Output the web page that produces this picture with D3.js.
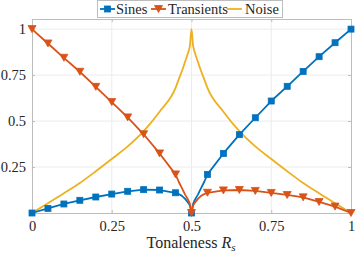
<!DOCTYPE html>
<html>
<head>
<meta charset="utf-8">
<script src="https://cdn.jsdelivr.net/npm/d3@7"></script>
<style>
  html, body { margin: 0; padding: 0; background: #fff; }
</style>
</head>
<body>
<div id="chart"></div>
<script>
// tonalness values (line points, markers every 0.05)
const xs = [0, 0.05, 0.1, 0.15, 0.2, 0.25, 0.3, 0.35, 0.4, 0.45, 0.46, 0.47, 0.48, 0.49, 0.495, 0.5,
            0.505, 0.51, 0.52, 0.53, 0.54, 0.55, 0.6, 0.65, 0.7, 0.75, 0.8, 0.85, 0.9, 0.95, 1];
const sines = [0, 0.025, 0.049, 0.069, 0.087, 0.103, 0.118, 0.127, 0.125, 0.11, 0.103, 0.093, 0.077, 0.055, 0.04, 0,
               0.05, 0.07, 0.1, 0.135, 0.17, 0.21, 0.324, 0.426, 0.518, 0.609, 0.689, 0.77, 0.85, 0.926, 1];
const transients = [1, 0.922, 0.844, 0.768, 0.686, 0.603, 0.52, 0.428, 0.324, 0.21, 0.17, 0.135, 0.1, 0.07, 0.05, 0,
                    0.04, 0.055, 0.077, 0.093, 0.103, 0.11, 0.123, 0.125, 0.12, 0.109, 0.098, 0.085, 0.06, 0.035, 0];
const noise = [0, 0.053, 0.107, 0.163, 0.227, 0.294, 0.362, 0.445, 0.551, 0.68, 0.727, 0.772, 0.823, 0.875, 0.91, 1,
               0.91, 0.875, 0.823, 0.772, 0.727, 0.68, 0.551, 0.445, 0.362, 0.294, 0.227, 0.163, 0.107, 0.053, 0];

const xTicks = [0, 0.25, 0.5, 0.75, 1];
const xTickLabels = ["0", "0.25", "0.5", "0.75", "1"];
const yTicks = [0.25, 0.5, 0.75, 1];
const yTickLabels = ["0.25", "0.5", "0.75", "1"];

const width = 357, height = 254;
const margin = {top: 19, right: 6, bottom: 41, left: 32};
const axisColor = "#bdbdbd";
const serif = "Liberation Serif";

const svg = d3.select("#chart")
    .append("svg")
    .attr("width", width)
    .attr("height", height);

const x = d3.scaleLinear().domain([0, 1]).range([margin.left, width - margin.right]);
const y = d3.scaleLinear().domain([0, 1.055]).range([height - margin.bottom, margin.top]);

// grid
svg.append("g").selectAll("line.gx")
    .data(xTicks.slice(1, -1))
    .enter().append("line")
    .attr("x1", d => x(d)).attr("x2", d => x(d))
    .attr("y1", y.range()[0]).attr("y2", y.range()[1])
    .attr("stroke", "#ececec").attr("stroke-width", 1);
svg.append("g").selectAll("line.gy")
    .data(yTicks)
    .enter().append("line")
    .attr("x1", x.range()[0]).attr("x2", x.range()[1])
    .attr("y1", d => y(d)).attr("y2", d => y(d))
    .attr("stroke", "#ececec").attr("stroke-width", 1);

// axes (box with inward ticks)
const xAxis = svg.append("g")
    .attr("transform", `translate(0,${y(0)})`)
    .call(d3.axisBottom(x).tickValues(xTicks).tickSize(-3).tickPadding(8)
        .tickFormat((d, i) => xTickLabels[i]));
const yAxis = svg.append("g")
    .attr("transform", `translate(${x(0)},0)`)
    .call(d3.axisLeft(y).tickValues(yTicks).tickSize(-3).tickPadding(6)
        .tickFormat((d, i) => yTickLabels[i]));
svg.append("g")
    .attr("transform", `translate(${x(1)},0)`)
    .call(d3.axisRight(y).tickValues(yTicks).tickSize(-3).tickFormat(""));
svg.append("g")
    .attr("transform", `translate(0,${y.range()[1]})`)
    .call(d3.axisTop(x).tickValues(xTicks).tickSize(-3).tickFormat(""));

svg.selectAll(".domain").attr("stroke", axisColor);
svg.selectAll(".tick line").attr("stroke", axisColor);
svg.selectAll(".tick text")
    .attr("font-family", serif)
    .attr("font-size", 14.5)
    .attr("fill", "#262626");
xAxis.selectAll(".tick text").attr("dy", "0.71em");

// series
const series = [
    {name: "Sines", values: sines, color: "#0072BD", marker: "square"},
    {name: "Transients", values: transients, color: "#D95319", marker: "triangle"},
    {name: "Noise", values: noise, color: "#EDB120", marker: null}
];

const line = d3.line()
    .x(d => x(d[0]))
    .y(d => y(d[1]));
const smoothLine = d3.line()
    .x(d => x(d[0]))
    .y(d => y(d[1]))
    .curve(d3.curveMonotoneX);

const isMarkerX = v => Math.abs(v * 20 - Math.round(v * 20)) < 1e-6;

function drawMarker(g, type, cx, cy, color) {
    if (type === "square") {
        g.append("rect")
            .attr("x", cx - 3).attr("y", cy - 3)
            .attr("width", 6).attr("height", 6)
            .attr("fill", color).attr("stroke", color).attr("stroke-width", 0.8);
    } else if (type === "triangle") {
        g.append("path")
            .attr("d", `M${cx - 4},${cy - 3.5}L${cx + 4},${cy - 3.5}L${cx},${cy + 3.5}Z`)
            .attr("fill", color).attr("stroke", color).attr("stroke-width", 0.8);
    }
}

// noise first so the markers sit on top
[series[2], series[0], series[1]].forEach(s => {
    const pts = xs.map((v, i) => [v, s.values[i]]);
    svg.append("path")
        .datum(pts)
        .attr("d", s.marker ? line : smoothLine)
        .attr("fill", "none")
        .attr("stroke", s.color)
        .attr("stroke-width", 1.8)
        .attr("stroke-linejoin", "round");
    if (s.marker) {
        const g = svg.append("g");
        pts.filter(p => isMarkerX(p[0])).forEach(p => drawMarker(g, s.marker, x(p[0]), y(p[1]), s.color));
    }
});

// x label
const xl = svg.append("text")
    .attr("x", 191)
    .attr("y", 248)
    .attr("text-anchor", "middle")
    .attr("fill", "#262626")
    .attr("font-family", serif)
    .attr("font-size", 16);
xl.append("tspan").text("Tonaleness ");
xl.append("tspan").attr("font-style", "italic").text("R");
xl.append("tspan").attr("font-style", "italic").attr("font-size", 11).attr("dy", 3).text("s");

// legend
const legend = svg.append("g");
legend.append("rect")
    .attr("x", 97.5).attr("y", 0.5)
    .attr("width", 185).attr("height", 17)
    .attr("fill", "#fff").attr("stroke", axisColor).attr("stroke-width", 1);

const legendPos = [
    {x0: 100, tx: 116},
    {x0: 151, tx: 168},
    {x0: 227, tx: 245}
];
series.forEach((s, i) => {
    const p = legendPos[i];
    legend.append("line")
        .attr("x1", p.x0).attr("x2", p.x0 + 15)
        .attr("y1", 9).attr("y2", 9)
        .attr("stroke", s.color).attr("stroke-width", 1.8);
    drawMarker(legend, s.marker, p.x0 + 7.5, 9, s.color);
    legend.append("text")
        .attr("x", p.tx).attr("y", 14)
        .attr("fill", "#262626")
        .attr("font-family", serif)
        .attr("font-size", 14.5)
        .text(s.name);
});
</script>
</body>
</html>
